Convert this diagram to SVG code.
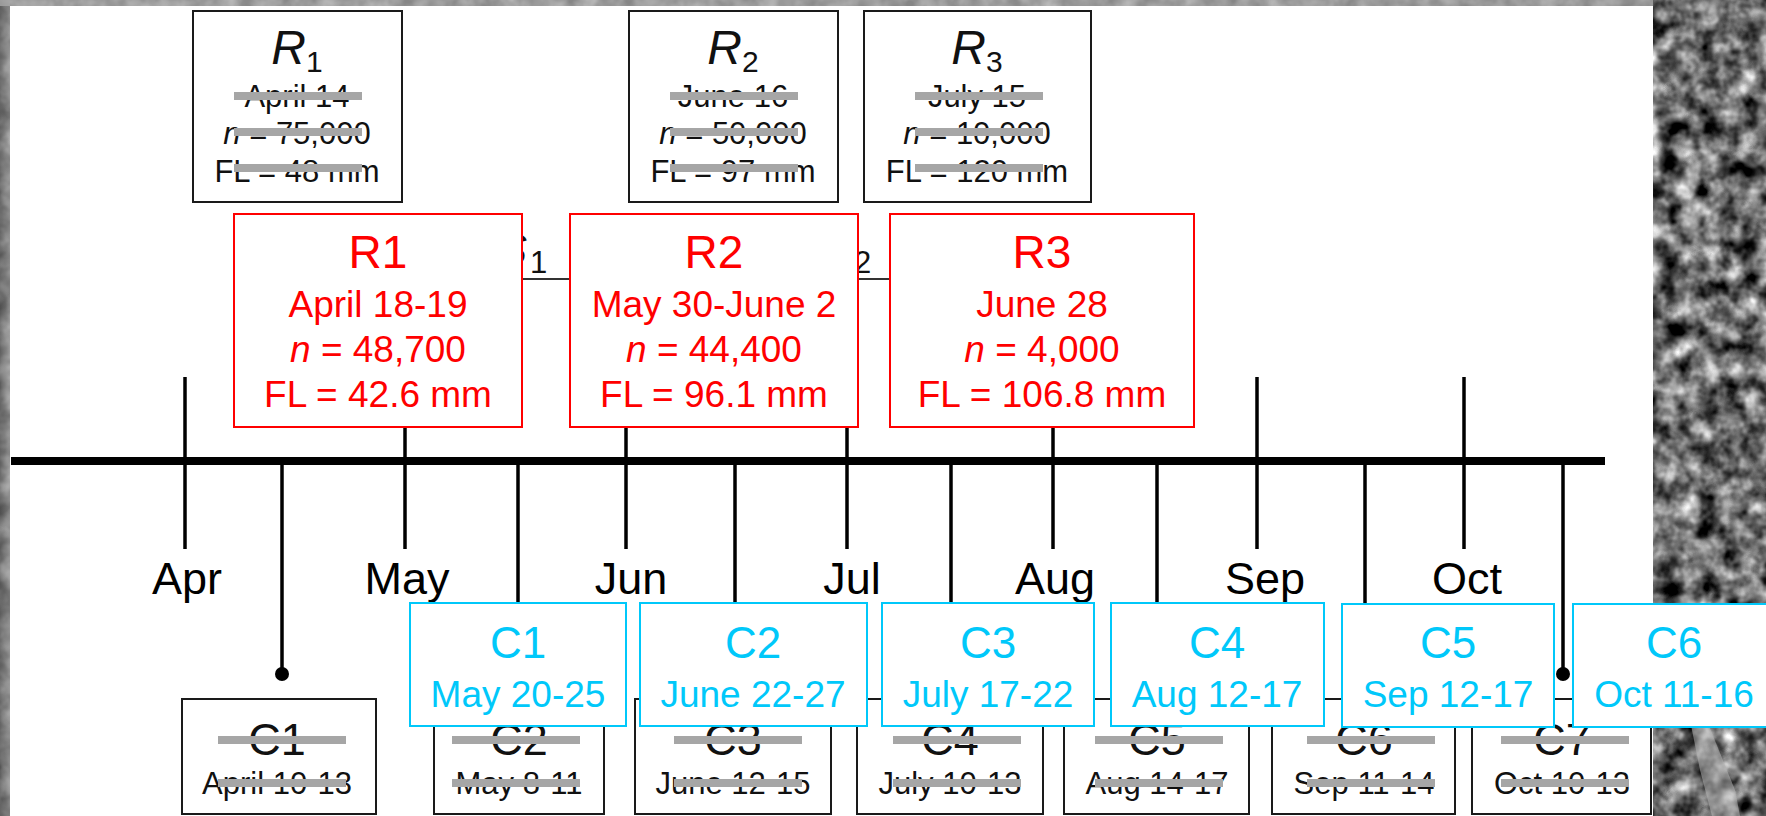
<svg xmlns="http://www.w3.org/2000/svg" width="1766" height="816" viewBox="0 0 1766 816">
<defs>
<filter id="tex" filterUnits="userSpaceOnUse" x="0" y="0" width="1766" height="816" color-interpolation-filters="sRGB">
<feTurbulence type="fractalNoise" baseFrequency="0.05" numOctaves="3" seed="7"/>
<feColorMatrix type="matrix" values="1.1 1.1 0 0 -0.67  1.1 1.1 0 0 -0.67  1.1 1.1 0 0 -0.67  0 0 0 0 1"/>
</filter>
<linearGradient id="leftg" x1="0" y1="0" x2="1" y2="0">
<stop offset="0" stop-color="#6a6a6a"/>
<stop offset="1" stop-color="#a0a0a0"/>
</linearGradient>
</defs>
<style>
text{font-family:"Liberation Sans",Arial,Helvetica,sans-serif;text-anchor:middle}
.old{fill:#fff;stroke:#1a1a1a;stroke-width:2}
.red{fill:#fff;stroke:#ff0000;stroke-width:2}
.cyan{fill:#fff;stroke:#00c8fa;stroke-width:2}
.strike{fill:#a6a6a6}
.ot{fill:#111;font-size:31px}
.ob{fill:#111;font-size:45px}
.orb{fill:#111;font-size:48px}
.rt{fill:#ff0000;font-size:37px}
.rb{fill:#ff0000;font-size:46px}
.ct{fill:#00c8fa;font-size:37px}
.cb{fill:#00c8fa;font-size:44px}
.mon{fill:#000;font-size:45px}
.tick{stroke:#000;stroke-width:3.5;fill:none}
.i{font-style:italic}
</style>

<!-- background -->
<g id="background">
<rect x="0" y="0" width="1766" height="816" fill="#777" filter="url(#tex)"/>
<rect x="0" y="0" width="10" height="816" fill="url(#leftg)" opacity="0.75"/>
<rect x="0" y="0" width="1653" height="6" fill="#a8a8a8" opacity="0.8"/>
<path d="M1690,720 L1705,716 L1735,790 L1740,816 L1712,816 L1700,770 Z" fill="#b4b4b4" opacity="0.55"/>
<rect x="10" y="6" width="1643" height="810" fill="#fff"/>
</g>

<!-- old release boxes -->
<g id="R1-old">
<rect class="old" x="193" y="11" width="209" height="191"/>
<text class="orb" x="297" y="64"><tspan class="i">R</tspan><tspan font-size="30" dy="8">1</tspan></text>
<text class="ot" x="297" y="107">April 14</text>
<text class="ot" x="297" y="144"><tspan class="i">n</tspan> = 75,000</text>
<text class="ot" x="297" y="182">FL = 48 mm</text>
<rect class="strike" x="234" y="92" width="128" height="8"/>
<rect class="strike" x="234" y="128" width="128" height="8"/>
<rect class="strike" x="234" y="164" width="128" height="8"/>
</g>
<g id="R2-old">
<rect class="old" x="629" y="11" width="209" height="191"/>
<text class="orb" x="733" y="64"><tspan class="i">R</tspan><tspan font-size="30" dy="8">2</tspan></text>
<text class="ot" x="733" y="107">June 16</text>
<text class="ot" x="733" y="144"><tspan class="i">n</tspan> = 50,000</text>
<text class="ot" x="733" y="182">FL = 97 mm</text>
<rect class="strike" x="670" y="92" width="128" height="8"/>
<rect class="strike" x="670" y="128" width="128" height="8"/>
<rect class="strike" x="670" y="164" width="128" height="8"/>
</g>
<g id="R3-old">
<rect class="old" x="864" y="11" width="227" height="191"/>
<text class="orb" x="977" y="64"><tspan class="i">R</tspan><tspan font-size="30" dy="8">3</tspan></text>
<text class="ot" x="977" y="107">July 15</text>
<text class="ot" x="977" y="144"><tspan class="i">n</tspan> = 10,000</text>
<text class="ot" x="977" y="182">FL = 120 mm</text>
<rect class="strike" x="915" y="92" width="128" height="8"/>
<rect class="strike" x="915" y="128" width="128" height="8"/>
<rect class="strike" x="915" y="164" width="128" height="8"/>
</g>

<!-- connectors -->
<g id="connectors">
<line x1="480" y1="279" x2="900" y2="279" stroke="#333" stroke-width="2"/>
<text class="i" x="527" y="265" style="text-anchor:end;font-size:44px;fill:#111">S</text>
<text x="530" y="273" style="text-anchor:start;font-size:31px;fill:#111">1</text>
<text class="i" x="851" y="265" style="text-anchor:end;font-size:44px;fill:#111">S</text>
<text x="854" y="273" style="text-anchor:start;font-size:31px;fill:#111">2</text>
<line x1="11" y1="461" x2="1605" y2="461" stroke="#000" stroke-width="8"/>
<g class="tick">
<line x1="185" y1="377" x2="185" y2="549"/>
<line x1="405" y1="377" x2="405" y2="549"/>
<line x1="626" y1="377" x2="626" y2="549"/>
<line x1="847" y1="377" x2="847" y2="549"/>
<line x1="1053" y1="377" x2="1053" y2="549"/>
<line x1="1257" y1="377" x2="1257" y2="549"/>
<line x1="1464" y1="377" x2="1464" y2="549"/>
<line x1="282" y1="461" x2="282" y2="674"/>
<line x1="518" y1="461" x2="518" y2="674"/>
<line x1="735" y1="461" x2="735" y2="674"/>
<line x1="951" y1="461" x2="951" y2="674"/>
<line x1="1157" y1="461" x2="1157" y2="674"/>
<line x1="1365" y1="461" x2="1365" y2="674"/>
<line x1="1563" y1="461" x2="1563" y2="674"/>
</g>
<g fill="#000">
<circle cx="282" cy="674" r="7"/>
<circle cx="518" cy="674" r="7"/>
<circle cx="735" cy="674" r="7"/>
<circle cx="951" cy="674" r="7"/>
<circle cx="1157" cy="674" r="7"/>
<circle cx="1365" cy="674" r="7"/>
<circle cx="1563" cy="674" r="7"/>
</g>
</g>

<!-- month labels -->
<g id="months">
<text class="mon" x="187" y="594">Apr</text>
<text class="mon" x="407" y="594">May</text>
<text class="mon" x="631" y="594">Jun</text>
<text class="mon" x="852" y="594">Jul</text>
<text class="mon" x="1055" y="594">Aug</text>
<text class="mon" x="1265" y="594">Sep</text>
<text class="mon" x="1467" y="594">Oct</text>
</g>

<!-- red release boxes -->
<g id="R1">
<rect class="red" x="234" y="214" width="288" height="213"/>
<text class="rb" x="378" y="268">R1</text>
<text class="rt" x="378" y="317">April 18-19</text>
<text class="rt" x="378" y="362"><tspan class="i">n</tspan> = 48,700</text>
<text class="rt" x="378" y="407">FL = 42.6 mm</text>
</g>
<g id="R2">
<rect class="red" x="570" y="214" width="288" height="213"/>
<text class="rb" x="714" y="268">R2</text>
<text class="rt" x="714" y="317">May 30-June 2</text>
<text class="rt" x="714" y="362"><tspan class="i">n</tspan> = 44,400</text>
<text class="rt" x="714" y="407">FL = 96.1 mm</text>
</g>
<g id="R3">
<rect class="red" x="890" y="214" width="304" height="213"/>
<text class="rb" x="1042" y="268">R3</text>
<text class="rt" x="1042" y="317">June 28</text>
<text class="rt" x="1042" y="362"><tspan class="i">n</tspan> = 4,000</text>
<text class="rt" x="1042" y="407">FL = 106.8 mm</text>
</g>

<!-- old capture boxes -->
<g id="C1-old">
<rect class="old" x="182" y="699" width="194" height="115"/>
<text class="ob" x="277" y="755">C1</text>
<text class="ot" x="277" y="794">April 10-13</text>
<rect class="strike" x="218" y="736" width="128" height="8"/>
<rect class="strike" x="218" y="779" width="128" height="8"/>
</g>
<g id="C2-old">
<rect class="old" x="434" y="699" width="170" height="115"/>
<text class="ob" x="519" y="755">C2</text>
<text class="ot" x="519" y="794">May 8-11</text>
<rect class="strike" x="452" y="736" width="128" height="8"/>
<rect class="strike" x="452" y="779" width="128" height="8"/>
</g>
<g id="C3-old">
<rect class="old" x="635" y="699" width="196" height="115"/>
<text class="ob" x="733" y="755">C3</text>
<text class="ot" x="733" y="794">June 12-15</text>
<rect class="strike" x="674" y="736" width="128" height="8"/>
<rect class="strike" x="674" y="779" width="128" height="8"/>
</g>
<g id="C4-old">
<rect class="old" x="857" y="699" width="186" height="115"/>
<text class="ob" x="950" y="755">C4</text>
<text class="ot" x="950" y="794">July 10-13</text>
<rect class="strike" x="893" y="736" width="128" height="8"/>
<rect class="strike" x="893" y="779" width="128" height="8"/>
</g>
<g id="C5-old">
<rect class="old" x="1064" y="699" width="185" height="115"/>
<text class="ob" x="1157" y="755">C5</text>
<text class="ot" x="1157" y="794">Aug 14-17</text>
<rect class="strike" x="1095" y="736" width="128" height="8"/>
<rect class="strike" x="1095" y="779" width="128" height="8"/>
</g>
<g id="C6-old">
<rect class="old" x="1272" y="699" width="183" height="115"/>
<text class="ob" x="1364" y="755">C6</text>
<text class="ot" x="1364" y="794">Sep 11-14</text>
<rect class="strike" x="1307" y="736" width="128" height="8"/>
<rect class="strike" x="1307" y="779" width="128" height="8"/>
</g>
<g id="C7-old">
<rect class="old" x="1472" y="699" width="179" height="115"/>
<text class="ob" x="1562" y="755">C7</text>
<text class="ot" x="1562" y="794">Oct 10-13</text>
<rect class="strike" x="1501" y="736" width="128" height="8"/>
<rect class="strike" x="1501" y="779" width="128" height="8"/>
</g>

<!-- cyan capture boxes -->
<g id="C1">
<rect class="cyan" x="410" y="603" width="216" height="123"/>
<text class="cb" x="518" y="658">C1</text>
<text class="ct" x="518" y="707">May 20-25</text>
</g>
<g id="C2">
<rect class="cyan" x="640" y="603" width="227" height="123"/>
<text class="cb" x="753" y="658">C2</text>
<text class="ct" x="753" y="707">June 22-27</text>
</g>
<g id="C3">
<rect class="cyan" x="882" y="603" width="212" height="123"/>
<text class="cb" x="988" y="658">C3</text>
<text class="ct" x="988" y="707">July 17-22</text>
</g>
<g id="C4">
<rect class="cyan" x="1111" y="603" width="213" height="123"/>
<text class="cb" x="1217" y="658">C4</text>
<text class="ct" x="1217" y="707">Aug 12-17</text>
</g>
<g id="C5">
<rect class="cyan" x="1342" y="604" width="212" height="123"/>
<text class="cb" x="1448" y="658">C5</text>
<text class="ct" x="1448" y="707">Sep 12-17</text>
</g>
<g id="C6">
<rect class="cyan" x="1573" y="604" width="220" height="123"/>
<text class="cb" x="1674" y="658">C6</text>
<text class="ct" x="1674" y="707">Oct 11-16</text>
</g>
</svg>
